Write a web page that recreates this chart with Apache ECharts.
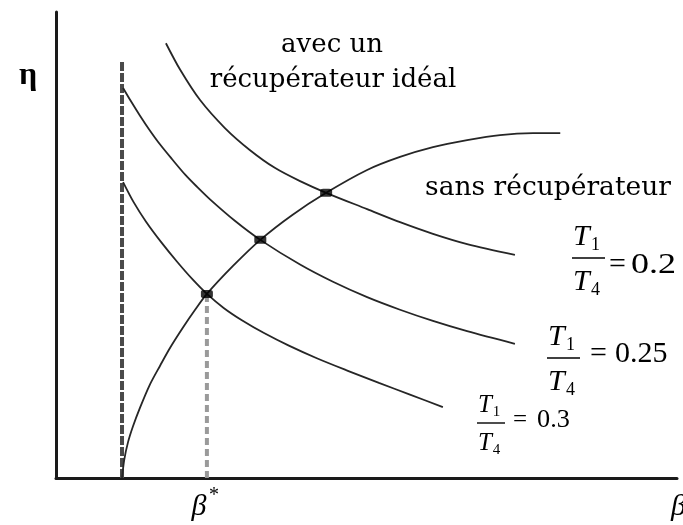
<!DOCTYPE html>
<html>
<head>
<meta charset="utf-8">
<script src="https://cdn.jsdelivr.net/npm/echarts@6/dist/echarts.min.js"></script>
<style>
  html, body { margin: 0; padding: 0; background: #fff; }
  #chart { width: 683px; height: 525px; }
</style>
</head>
<body>
<div id="chart"></div>
<script>
// Cycle efficiency η against pressure ratio β (arbitrary units).

// Cycle without heat recovery
const betaPlain = [1.063, 1.10, 1.16, 1.24, 1.35, 1.51, 1.68, 1.84, 2.05, 2.24, 2.43, 2.85, 3.29, 3.80, 4.35, 5.01, 5.54, 6.07, 6.62, 7.15, 7.68, 8.12];
const etaPlain  = [0.000, 0.040, 0.077, 0.111, 0.150, 0.200, 0.242, 0.280, 0.324, 0.361, 0.395, 0.455, 0.511, 0.564, 0.612, 0.661, 0.689, 0.710, 0.725, 0.736, 0.740, 0.740];

// Ideal recuperator, T1/T4 = 0.2
const betaR02 = [1.77, 2.00, 2.32, 2.72, 3.12, 3.53, 3.93, 4.35, 5.01, 5.54, 6.07, 6.62, 7.39];
const etaR02  = [0.933, 0.876, 0.811, 0.751, 0.704, 0.665, 0.637, 0.612, 0.577, 0.549, 0.524, 0.502, 0.479];

// Ideal recuperator, T1/T4 = 0.25
const betaR025 = [1.08, 1.20, 1.35, 1.50, 1.68, 1.87, 2.08, 2.27, 2.48, 2.88, 3.29, 3.93, 4.46, 5.01, 5.54, 6.07, 6.62, 7.39];
const etaR025  = [0.837, 0.810, 0.778, 0.748, 0.715, 0.684, 0.651, 0.625, 0.598, 0.552, 0.511, 0.458, 0.421, 0.388, 0.361, 0.337, 0.315, 0.288];

// Ideal recuperator, T1/T4 = 0.3
const betaR03 = [1.08, 1.25, 1.45, 1.70, 1.95, 2.20, 2.43, 2.70, 3.00, 3.35, 3.75, 4.20, 4.70, 5.20, 5.70, 6.23];
const etaR03  = [0.635, 0.592, 0.550, 0.505, 0.464, 0.426, 0.395, 0.365, 0.338, 0.311, 0.284, 0.257, 0.230, 0.204, 0.179, 0.152];

// Crossing points of the two families
const betaCross = [2.43, 3.29, 4.35];
const etaCross  = [0.395, 0.511, 0.612];

// Lower pressure-ratio limit and optimum β*
const betaLimit = 1.063;
const etaLimitTop = 0.897;
const betaStar = 2.43;
const etaStar = 0.395;

const ratioValues = ['0.2', '0.25', '0.3'];

const zip = (xs, ys) => xs.map((x, i) => [x, ys[i]]);

const SERIF = '"Liberation Serif", "Times New Roman", serif';
const SLAB = '"DejaVu Serif", serif';
const curveStyle = { color: '#262626', width: 1.8 };

function txt(x, y, text, font, align, valign, extra) {
  return Object.assign({
    type: 'text', x: x, y: y, silent: true,
    style: { text: text, font: font, fill: '#000', align: align || 'left', verticalAlign: valign || 'middle' }
  }, extra || {});
}

// T1 / T4 = value, built from glyphs around a fraction bar
function fraction(o) {
  const s = o.size, k = s / 30, left = o.left, barY = o.barY;
  const sub = Math.round(s * 0.6) + 'px ' + SERIF;
  const ital = 'italic ' + s + 'px ' + SERIF;
  return [
    txt(left + 1, barY - 21 * k, 'T', ital),
    txt(left + 19 * k, barY - 13 * k, '1', sub),
    { type: 'line', silent: true, shape: { x1: left, y1: barY, x2: left + o.barW, y2: barY }, style: { stroke: '#000', lineWidth: 1.4 } },
    txt(left + 1, barY + 24 * k, 'T', ital),
    txt(left + 19 * k, barY + 32 * k, '4', sub),
    txt(o.eqX, o.eqY, '=', s + 'px ' + SERIF),
    txt(o.valX, o.eqY, o.value, s + 'px ' + SERIF, 'left', 'middle', { scaleX: o.stretch || 1 })
  ];
}

const chart = echarts.init(document.getElementById('chart'), null, { renderer: 'canvas' });

const axisCommon = {
  type: 'value',
  axisLine: { show: true, lineStyle: { color: '#1a1a1a', width: 3 } },
  axisTick: { show: false },
  axisLabel: { show: false },
  splitLine: { show: false }
};

chart.setOption({
  animation: false,
  backgroundColor: '#fff',
  grid: { left: 56, right: 6, top: 12, bottom: 47 },
  xAxis: Object.assign({}, axisCommon, { min: 0, max: 10 }),
  yAxis: Object.assign({}, axisCommon, { min: 0, max: 1 }),
  series: [
    {
      name: 'limit', type: 'line', symbol: 'none', z: 1,
      data: [[betaLimit, 0], [betaLimit, etaLimitTop]],
      lineStyle: { color: '#4a4a4a', width: 4, type: [9, 2] }
    },
    {
      name: 'beta*', type: 'line', symbol: 'none', z: 1,
      data: [[betaStar, 0], [betaStar, etaStar]],
      lineStyle: { color: '#9a9a9a', width: 4, type: [7, 4] }
    },
    { name: 'sans', type: 'line', symbol: 'none', smooth: 0.3, data: zip(betaPlain, etaPlain), lineStyle: curveStyle, z: 2 },
    { name: '0.2', type: 'line', symbol: 'none', smooth: 0.3, data: zip(betaR02, etaR02), lineStyle: curveStyle, z: 2 },
    { name: '0.25', type: 'line', symbol: 'none', smooth: 0.3, data: zip(betaR025, etaR025), lineStyle: curveStyle, z: 2 },
    { name: '0.3', type: 'line', symbol: 'none', smooth: 0.3, data: zip(betaR03, etaR03), lineStyle: curveStyle, z: 2 },
    {
      name: 'optimum', type: 'scatter', z: 3,
      symbol: 'roundRect', symbolSize: [12, 8],
      itemStyle: { color: '#000' },
      data: zip(betaCross, etaCross)
    }
  ],
  graphic: [
    txt(28, 76, 'η', 'bold 32px ' + SERIF, 'center'),
    txt(332, 45, 'avec un', '26px ' + SLAB, 'center'),
    txt(333, 80, 'récupérateur idéal', '26px ' + SLAB, 'center'),
    txt(548, 188, 'sans récupérateur', '26.5px ' + SLAB, 'center'),
    ...fraction({ left: 572, barY: 258, size: 30, barW: 33, eqX: 609, valX: 631, eqY: 265, value: ratioValues[0], stretch: 1.2 }),
    ...fraction({ left: 547, barY: 358, size: 30, barW: 33, eqX: 590, valX: 615, eqY: 354, value: ratioValues[1] }),
    ...fraction({ left: 477, barY: 423, size: 25, barW: 28, eqX: 513, valX: 537, eqY: 420, value: ratioValues[2], stretch: 1.05 }),
    txt(199, 507, 'β', 'italic 30px ' + SERIF, 'center'),
    txt(209, 496, '*', '20px ' + SERIF, 'left'),
    txt(671, 507, 'β', 'italic 30px ' + SERIF, 'left')
  ]
});
</script>
</body>
</html>
